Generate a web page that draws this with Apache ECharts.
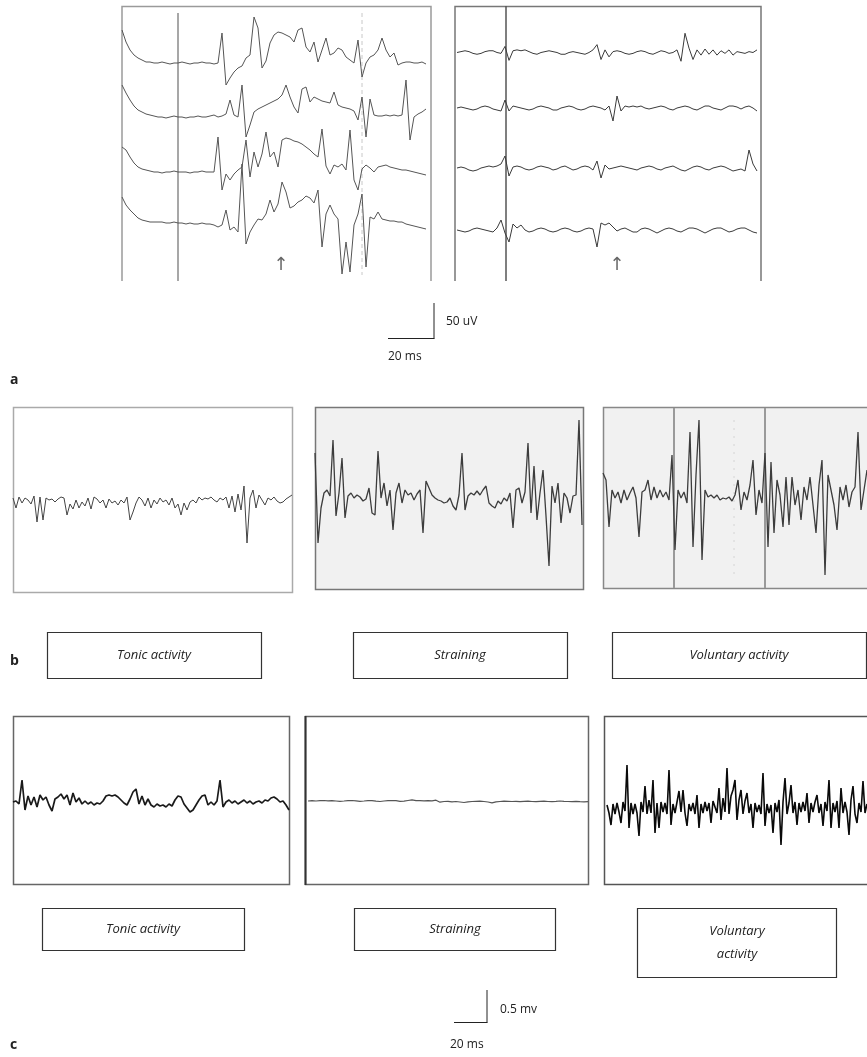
<!DOCTYPE html>
<html><head><meta charset="utf-8">
<script src="https://cdn.jsdelivr.net/npm/echarts/dist/echarts.min.js"></script>
<style>html,body{margin:0;padding:0;background:#fff}#c{width:867px;height:1057px}</style>
</head><body><div id="c"></div><script>
// ---- Data: deflections (positive = up), one value per sample ----
// Panel a, left recording (4 channels)
const aLeftCh1 = [33,21,13,8,5,3,1,1,0,0,1,0,-1,0,0,1,0,-1,0,0,1,0,0,-1,0,30,-22,-15,-9,-5,-3,5,8,46,35,-5,2,20,28,31,30,28,26,21,33,35,16,11,21,1,13,25,8,10,15,13,6,3,0,23,-14,0,6,8,13,25,13,6,10,-2,0,1,1,0,0,1,-1];
const aLeftCh2 = [32,24,17,11,7,5,3,2,1,0,0,-1,0,1,0,0,-1,0,0,1,0,0,1,2,0,1,3,17,2,0,32,-20,-8,5,8,10,12,14,16,18,22,32,20,10,4,28,30,15,20,18,16,15,14,25,12,10,9,8,6,-3,20,-20,18,2,1,1,2,1,2,1,2,37,-23,0,3,5,8];
const aLeftCh3 = [25,22,15,9,5,3,2,1,0,0,-1,0,0,1,0,0,0,-1,0,0,1,0,0,0,35,-18,-2,-8,-2,2,5,32,-5,20,5,18,40,15,20,5,32,34,33,31,30,28,25,22,18,15,43,6,-2,7,5,8,2,42,-8,-18,3,7,4,0,5,6,7,5,4,3,2,2,1,0,-1,-2,-3];
const aLeftCh4 = [25,17,12,8,4,2,1,0,0,0,0,-1,-1,0,-1,-1,-2,-1,-2,-2,-1,-2,-2,-3,-5,-3,12,-8,-5,-10,58,-22,-10,-3,3,2,8,22,10,18,40,30,14,16,20,22,26,24,19,32,-25,8,17,8,3,-52,-20,-50,-3,8,28,-45,5,3,10,3,2,1,1,0,0,-2,-3,-4,-5,-6,-7];
// Panel a, right recording (4 channels)
const aRightCh1 = [0,1,2,1,-1,-2,-1,1,2,2,0,-1,7,-9,2,3,2,3,1,-1,-2,0,1,2,1,0,-2,-2,0,1,0,-1,-2,0,3,9,-8,3,-5,1,2,1,-1,-2,-1,1,2,1,-1,-2,0,2,1,-1,0,3,-10,22,5,-8,3,-3,4,-2,3,-3,2,-1,3,-3,1,0,-1,1,0,3];
const aRightCh2 = [0,1,0,-1,-2,-1,1,2,1,-1,-2,-3,8,-3,2,1,0,-1,-2,-1,1,2,1,0,-2,-2,0,1,2,1,-1,-2,-1,1,2,1,0,-2,2,-13,12,-3,2,1,2,1,2,0,-1,0,1,2,1,-1,-2,0,1,2,1,-1,-2,0,2,2,0,-1,-2,0,2,2,1,-1,1,2,0,-3];
const aRightCh3 = [0,1,0,-2,-3,-2,0,1,2,1,2,4,12,-8,1,2,1,-1,-2,-1,1,2,1,0,-2,-1,1,2,0,-2,-1,1,2,1,-2,7,-10,3,-1,0,1,2,1,0,-1,-2,0,1,2,1,-1,-2,0,1,2,0,-2,-3,-1,1,2,1,-1,-2,0,1,2,1,-1,-3,-2,-1,-3,18,4,-3];
const aRightCh4 = [0,-1,-2,-1,1,2,1,0,-1,-2,2,10,-3,-12,6,2,5,0,-2,-1,1,2,1,-1,-2,-1,1,2,1,-1,-2,-1,1,2,1,-17,7,5,7,3,-1,1,2,0,-2,-2,1,2,1,-1,-3,-1,1,2,1,-1,-2,0,2,2,1,-1,-3,-1,1,2,2,0,-2,-1,1,2,2,0,-2,-3];
// Panel b
const bTonic = [2,-8,3,-3,2,0,-4,4,-22,3,-20,2,0,1,-2,1,3,2,-15,-4,-9,0,-8,-2,-6,2,-9,3,1,-3,0,-8,1,-3,-1,-5,0,-3,3,-20,-12,-3,3,0,-6,2,-8,0,-4,2,-2,0,-5,2,-8,-4,-15,-3,-10,-2,0,-3,3,0,2,1,3,0,-2,2,0,3,-8,4,-12,6,-10,14,-43,2,10,-8,5,0,-5,2,0,3,-1,-3,-2,1,3,5];
const bStraining = [45,-45,-10,5,8,2,58,-18,5,40,-20,2,5,0,3,1,-3,-1,10,-15,-17,47,0,15,-8,8,-32,5,15,-5,8,3,5,-2,4,8,-35,17,10,3,0,-2,-3,-5,-4,0,-8,-12,3,45,-12,2,5,3,7,3,8,12,-5,-8,-10,-3,-6,0,-3,5,-30,8,10,-5,6,55,-15,32,-22,5,28,-18,-68,12,-5,15,-25,5,0,-15,2,3,78,-27];
const bVoluntary = [22,15,-32,5,-3,3,-8,5,-5,2,8,-3,-42,3,5,15,-5,8,-3,5,-2,3,-5,40,-55,5,-3,3,-8,63,-52,20,75,-65,5,-2,0,-3,0,-5,-3,-4,-2,-6,0,15,-15,3,-5,10,35,-20,5,-8,42,-52,33,-38,15,0,-32,18,-30,18,-10,5,-25,8,-5,18,-10,-38,10,35,-80,20,5,-10,-35,8,-5,10,-12,3,8,63,-15,5,25];
// Panel c
const cTonic = [0,1,-2,22,-8,6,-3,5,-5,7,2,5,-3,-9,3,5,8,3,7,-3,9,0,4,-2,1,-2,0,-3,-1,-2,1,6,7,6,7,5,2,-1,-3,3,10,13,-2,6,-3,3,-3,-5,-2,-4,-3,-5,-2,-4,2,6,5,-2,-6,-10,-8,-3,2,6,7,-3,0,-3,1,22,-5,0,2,-1,1,-2,0,2,-1,1,-2,0,1,-1,2,1,4,5,3,0,1,-3,-8];
const cStraining = [0,0.3,0,0.3,0.5,0.2,0.3,0,-0.3,0,0.4,0.5,0.1,-0.3,0,0.4,0.3,-0.2,-0.5,0,0.4,0.5,0.3,-0.3,-0.2,0.5,1.2,0.3,0.4,0.2,0.3,0.2,0.8,-1.2,-0.5,-0.3,-0.8,-0.5,-1.0,-1.5,-0.8,-0.5,-0.3,-0.2,-0.5,-1.0,-1.8,-0.8,-0.5,-0.2,-0.3,-0.5,-0.3,-0.6,-0.4,-0.2,-0.5,-0.7,-0.3,-0.2,-0.5,-0.6,-0.4,0.0,-0.3,-0.5,-0.6,-0.4,-0.7,-0.8,-0.7];
const cVoluntary = [3,-5,-17,4,-6,5,-4,-15,6,-3,43,-20,5,-6,4,-5,-28,6,-4,22,-6,8,-5,28,-25,5,-20,6,-4,5,-6,38,-17,4,-5,6,17,-4,18,-5,-18,4,-3,5,-6,13,-20,4,-5,6,-3,5,-15,7,9,-5,20,-12,10,-4,40,-6,12,18,28,-12,8,18,-6,7,15,-5,4,-20,5,-4,3,-6,35,-18,4,-5,3,-25,5,-4,8,-37,6,30,-6,5,23,-5,6,-17,5,-4,6,-3,15,-15,5,-4,6,13,-5,4,-18,6,-3,28,-20,5,-4,7,-20,20,-5,6,-4,-27,8,22,-6,-15,5,-4,27,-5,4];

// Text
const conditionLabels = ['Tonic activity', 'Straining', 'Voluntary activity'];
const panelLetters = ['a', 'b', 'c'];
const scaleA = ['50 uV', '20 ms'];
const scaleC = ['0.5 mv', '20 ms'];

// ---- Build ----
const chart = echarts.init(document.getElementById('c'), null, {renderer: 'canvas'});
const grids = [], xAxes = [], yAxes = [], series = [];
function addTrace(data, left, step, base, half, color, lw) {
  const i = grids.length;
  grids.push({left: left, top: base - half, width: step * (data.length - 1), height: 2 * half, show: false});
  xAxes.push({type: 'value', gridIndex: i, min: 0, max: data.length - 1, show: false});
  yAxes.push({type: 'value', gridIndex: i, min: -half, max: half, show: false});
  series.push({type: 'line', xAxisIndex: i, yAxisIndex: i, data: data.map((v, k) => [k, v]),
    symbol: 'none', clip: false, silent: true, animation: false, z: 5,
    lineStyle: {color: color, width: lw}});
}
// panel a
[aLeftCh1, aLeftCh2, aLeftCh3, aLeftCh4].forEach((d, k) => addTrace(d, 122, 4, [63, 117, 172, 222][k], 60, '#555', 1));
[aRightCh1, aRightCh2, aRightCh3, aRightCh4].forEach((d, k) => addTrace(d, 457, 4, [45, 108, 168, 230][k], 60, '#3a3a3a', 1));
// panel b
addTrace(bTonic, 13, 3, 500, 90, '#444', 1);
addTrace(bStraining, 315, 3, 498, 90, '#3c3c3c', 1.3);
addTrace(bVoluntary, 603, 3, 495, 90, '#3c3c3c', 1.3);
// panel c
addTrace(cTonic, 13, 3, 802, 40, '#1a1a1a', 1.7);
addTrace(cStraining, 308, 4, 801, 40, '#555', 1.2);
addTrace(cVoluntary, 607, 2, 808, 50, '#0a0a0a', 1.6);

const G = [];
function line(x1, y1, x2, y2, color, w, dash) {
  G.push({type: 'line', z: 1, silent: true, shape: {x1, y1, x2, y2}, style: {stroke: color, lineWidth: w, lineDash: dash || null}});
}
function poly(pts, color, w) {
  G.push({type: 'polyline', z: 1, silent: true, shape: {points: pts}, style: {stroke: color, lineWidth: w, fill: null}});
}
function rect(x, y, w, h, stroke, fill, lw, z) {
  G.push({type: 'rect', z: z || 0, silent: true, shape: {x, y, width: w, height: h}, style: {stroke: stroke, fill: fill || 'none', lineWidth: lw}});
}
function text(x, y, s, o) {
  G.push({type: 'text', z: 10, silent: true, x: x, y: y, style: Object.assign({text: s, fill: '#222', font: '12px "Open Sans", sans-serif', align: 'left', verticalAlign: 'middle'}, o || {})});
}
// panel a frames
poly([[122, 281], [122, 6.5], [431, 6.5], [431, 281]], '#9a9a9a', 1.5);
line(178, 13, 178, 281, '#8a8a8a', 1.5);
line(362, 13, 362, 275, '#c8c8c8', 1, [4, 3]);
poly([[455, 281], [455, 6.5], [761, 6.5], [761, 281]], '#777', 1.5);
line(506, 6, 506, 281, '#555', 1.5);
text(281, 265, '\u2191', {align: 'center', fill: '#666', font: '18px "DejaVu Sans", sans-serif'});
text(617, 265, '\u2191', {align: 'center', fill: '#666', font: '18px "DejaVu Sans", sans-serif'});
// scale bar a
line(434, 303, 434, 338.5, '#222', 1);
line(388, 338.5, 434.5, 338.5, '#222', 1);
text(446, 322, scaleA[0], {font: '12px "Open Sans", sans-serif'});
text(388, 357, scaleA[1], {font: '12px "Open Sans", sans-serif'});
// panel b frames
rect(13.5, 407.5, 279, 185, '#aaa', '#fff', 1.5);
rect(315.5, 407.5, 268, 182, '#777', '#f1f1f1', 1.5);
rect(603.5, 407.5, 266, 181, '#888', '#f1f1f1', 1.5);
line(674, 408, 674, 588, '#9a9a9a', 2);
line(765, 408, 765, 588, '#9a9a9a', 2);
line(734, 420, 734, 575, '#d4d4d4', 1, [2, 6]);
// panel c frames
rect(13.5, 716.5, 276, 168, '#666', '#fff', 1.5);
rect(305.5, 716.5, 283, 168, '#666', '#fff', 1.5);
line(305.5, 716, 305.5, 885, '#333', 2);
rect(604.5, 716.5, 266, 168, '#555', '#fff', 1.5);
// label boxes b
const lf = 'italic 13px "Open Sans", sans-serif';
rect(47.5, 632.5, 214, 46, '#333', '#fff', 1.2, 2);
rect(353.5, 632.5, 214, 46, '#333', '#fff', 1.2, 2);
rect(612.5, 632.5, 254, 46, '#333', '#fff', 1.2, 2);
text(154, 655, conditionLabels[0], {align: 'center', font: lf});
text(460, 655, conditionLabels[1], {align: 'center', font: lf});
text(739, 655, conditionLabels[2], {align: 'center', font: lf});
// label boxes c
rect(42.5, 908.5, 202, 42, '#333', '#fff', 1.2, 2);
rect(354.5, 908.5, 201, 42, '#333', '#fff', 1.2, 2);
rect(637.5, 908.5, 199, 69, '#333', '#fff', 1.2, 2);
text(143, 929, conditionLabels[0], {align: 'center', font: lf});
text(455, 929, conditionLabels[1], {align: 'center', font: lf});
text(737, 931, conditionLabels[2].split(' ')[0], {align: 'center', font: lf});
text(737, 954, conditionLabels[2].split(' ')[1], {align: 'center', font: lf});
// scale bar c
line(487, 990, 487, 1022.5, '#222', 1);
line(454, 1022.5, 487.5, 1022.5, '#222', 1);
text(500, 1010, scaleC[0], {font: '12px "Open Sans", sans-serif'});
text(450, 1045, scaleC[1], {font: '12px "Open Sans", sans-serif'});
// letters
const letterFont = 'bold 14px "Open Sans", sans-serif';
text(10, 380, panelLetters[0], {font: letterFont});
text(10, 661, panelLetters[1], {font: letterFont});
text(10, 1045, panelLetters[2], {font: letterFont});

chart.setOption({animation: false, grid: grids, xAxis: xAxes, yAxis: yAxes, series: series, graphic: {elements: G}});
</script></body></html>
